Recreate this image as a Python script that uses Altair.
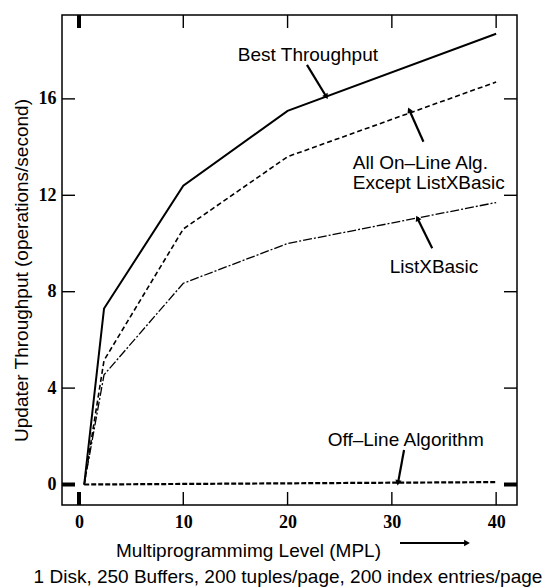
import math
import altair as alt
import pandas as pd

# ---- data ----
mpl = [0.5, 2.4, 10, 20, 40]
best = [0, 7.3, 12.4, 15.5, 18.7]
online = [0, 5.15, 10.6, 13.6, 16.7]
listx = [0, 4.55, 8.35, 10.0, 11.7]
offline_x = [0.5, 40]
offline = [0, 0.1]

x_ticks = [0, 10, 20, 30, 40]
y_ticks = [0, 4, 8, 12, 16]

ann_text = ["Best Throughput", "All On\u2013Line Alg.", "Except ListXBasic", "ListXBasic", "Off\u2013Line Algorithm"]
ann_x = [21.95, 26.25, 26.25, 34.04, 31.33]
ann_y = [17.82, 13.33, 12.5, 9.04, 1.85]
ann_align = ["center", "left", "left", "center", "center"]

arr_x = [21.86, 33.03, 33.87, 31.17]
arr_y = [17.41, 14.22, 9.8, 1.43]
arr_x2 = [23.72, 31.67, 32.45, 30.59]
arr_y2 = [16.09, 15.54, 11.05, 0.07]

XDOM = [-1.63, 42.0]
YDOM = [-0.85, 19.48]
W, H = 455, 490

xs = alt.Scale(domain=XDOM, nice=False, zero=False)
ys = alt.Scale(domain=YDOM, nice=False, zero=False)

fontS = "Liberation Sans"
fontT = "Liberation Serif"

xaxis = alt.Axis(values=x_ticks, title="Multiprogrammimg Level (MPL)",
                 titleX=186, titleY=45, titleBaseline="middle",
                 titleAlign="center", labelPadding=8)
yaxis = alt.Axis(values=y_ticks, title="Updater Throughput (operations/second)",
                 titleX=-41, titleY=255, titleBaseline="middle",
                 titleAlign="center", labelPadding=6)


def X(f):
    return alt.X(f, scale=xs, axis=xaxis)


def Y(f):
    return alt.Y(f, scale=ys, axis=yaxis)


rows = []
for name, vals in [("Best", best), ("Online", online), ("ListX", listx)]:
    for x, y in zip(mpl, vals):
        rows.append({"series": name, "mpl": x, "thr": y})
for x, y in zip(offline_x, offline):
    rows.append({"series": "Offline", "mpl": x, "thr": y})
df = pd.DataFrame(rows)

styles = {
    "Best": dict(strokeWidth=2.0),
    "Online": dict(strokeWidth=1.6, strokeDash=[5, 3]),
    "ListX": dict(strokeWidth=1.3, strokeDash=[9, 2, 2, 2]),
    "Offline": dict(strokeWidth=2.2, strokeDash=[5, 2]),
}

layers = []
for name, st in styles.items():
    layers.append(
        alt.Chart(df[df.series == name]).mark_line(color="black", **st).encode(
            x=X("mpl:Q"), y=Y("thr:Q"))
    )

# annotations
adf = pd.DataFrame({"t": ann_text, "x": ann_x, "y": ann_y, "a": ann_align})
for al in ["center", "left"]:
    layers.append(
        alt.Chart(adf[adf.a == al]).mark_text(font=fontS, fontSize=19, align=al,
                                               baseline="middle", color="black").encode(
            x=X("x:Q"), y=Y("y:Q"), text="t:N")
    )

pxu = W / (XDOM[1] - XDOM[0])
pyu = H / (YDOM[1] - YDOM[0])
angles = []
for x1, y1, x2, y2 in zip(arr_x, arr_y, arr_x2, arr_y2):
    dx = (x2 - x1) * pxu
    dy = -(y2 - y1) * pyu
    angles.append((math.degrees(math.atan2(dx, -dy)) + 360) % 360)
ardf = pd.DataFrame({"x": arr_x, "y": arr_y, "x2": arr_x2, "y2": arr_y2, "ang": angles})
layers.append(
    alt.Chart(ardf).mark_rule(color="black", strokeWidth=2.2).encode(
        x=X("x:Q"), y=Y("y:Q"), x2="x2:Q", y2="y2:Q")
)
layers.append(
    alt.Chart(ardf).mark_point(shape="triangle-up", filled=True, color="black", size=40, opacity=1).encode(
        x=X("x2:Q"), y=Y("y2:Q"), angle=alt.Angle("ang:Q", scale=None))
)

# inside ticks on all four sides
xt = pd.DataFrame({"v": x_ticks})
yt = pd.DataFrame({"v": y_ticks})
for sel, sw in [(lambda d: d[d.v != 0], 1.4), (lambda d: d[d.v == 0], 4)]:
    layers.append(alt.Chart(sel(xt)).mark_rule(color="black", strokeWidth=sw).encode(
        x=X("v:Q"), y=alt.value(H), y2=alt.value(H - 13)))
    layers.append(alt.Chart(sel(xt)).mark_rule(color="black", strokeWidth=sw).encode(
        x=X("v:Q"), y=alt.value(0), y2=alt.value(13)))
    layers.append(alt.Chart(sel(yt)).mark_rule(color="black", strokeWidth=sw).encode(
        y=Y("v:Q"), x=alt.value(0), x2=alt.value(13)))
    layers.append(alt.Chart(sel(yt)).mark_rule(color="black", strokeWidth=sw).encode(
        y=Y("v:Q"), x=alt.value(W), x2=alt.value(W - 13)))

# arrow next to x title
layers.append(alt.Chart(pd.DataFrame({"a": [0]})).mark_rule(color="black", strokeWidth=2).encode(
    x=alt.value(338), x2=alt.value(404), y=alt.value(528)))
layers.append(alt.Chart(pd.DataFrame({"a": [0]})).mark_point(shape="triangle-up", filled=True, color="black",
                                                            size=45, opacity=1, angle=90).encode(
    x=alt.value(405), y=alt.value(528)))

# footnote
layers.append(alt.Chart(pd.DataFrame({"t": ["1 Disk, 250 Buffers, 200 tuples/page, 200 index entries/page"]}))
              .mark_text(font=fontS, fontSize=19, align="center", baseline="middle", color="black").encode(
    x=alt.value(226), y=alt.value(562), text="t:N"))

chart = alt.layer(*layers).properties(
    width=W, height=H,
    autosize=alt.AutoSizeParams(type="none"),
    padding={"left": 62, "top": 15, "right": 35, "bottom": 83},
    background="white",
).configure_view(stroke="black", strokeWidth=1.5).configure_axis(
    domain=False, ticks=False, grid=False,
    labelFont=fontT, labelFontSize=18, labelFontWeight="bold", labelColor="black",
    titleFont=fontS, titleFontSize=19, titleFontWeight="normal", titleColor="black",
)

chart.save("out.html", embed_options={"renderer": "svg", "actions": False})
